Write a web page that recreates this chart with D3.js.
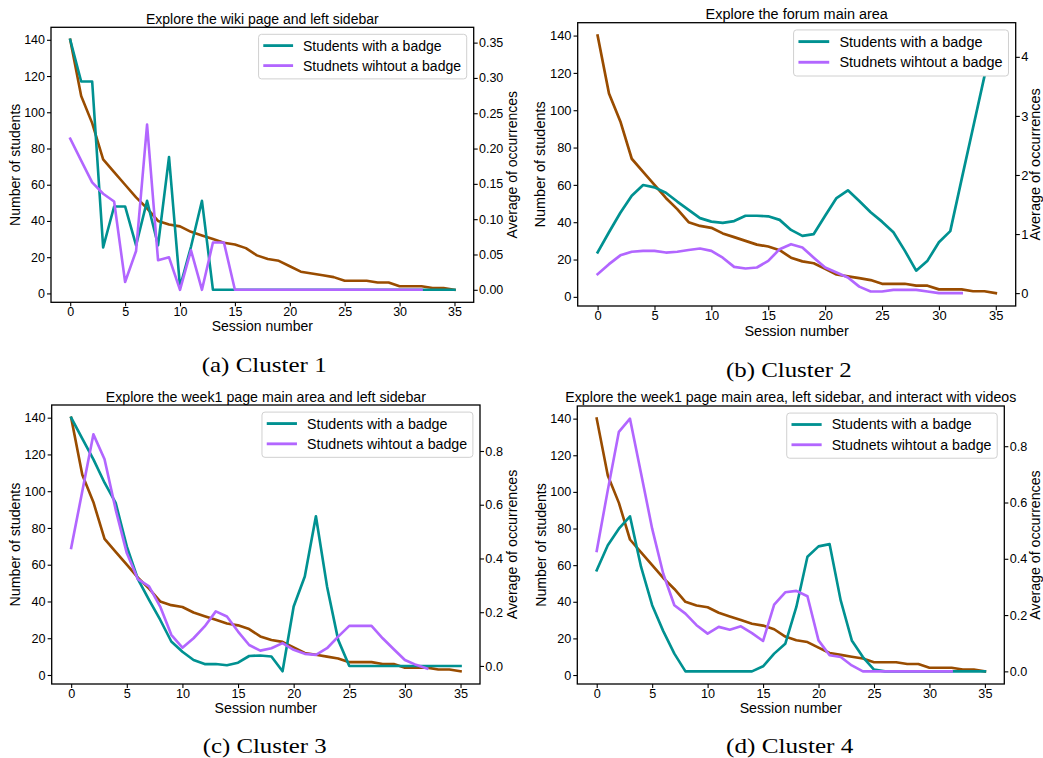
<!DOCTYPE html>
<html>
<head>
<meta charset="utf-8">
<script src="https://cdn.jsdelivr.net/npm/d3@7"></script>
<style>
  html, body { margin: 0; padding: 0; background: #fff; }
  svg { display: block; }
</style>
</head>
<body>
<svg id="chart" width="1043" height="758"></svg>
<script>
// ---------------- DATA ----------------
const sessions = [0,1,2,3,4,5,6,7,8,9,10,11,12,13,14,15,16,17,18,19,20,21,22,23,24,25,26,27,28,29,30,31,32,33,34,35];
const sessionsNoBadge = [0,1,2,3,4,5,6,7,8,9,10,11,12,13,14,15,16,17,18,19,20,21,22,23,24,25,26,27,28,29,30,31,32];

const students = [140,109,94,74,67,60,53,47,40,38,37,34,32,30,28,27,25,21,19,18,15,12,11,10,9,7,7,7,6,6,4,4,4,3,3,2];

const c1Badge = [0.354,0.295,0.295,0.060,0.118,0.118,0.063,0.126,0.063,0.188,0.004,0.061,0.126,0,0,0,0,0,0,0,0,0,0,0,0,0,0,0,0,0,0,0,0,0,0,0];
const c1NoBadge = [0.214,0.183,0.152,0.136,0.125,0.011,0.055,0.234,0.042,0.046,0,0.056,0,0.067,0.067,0,0,0,0,0,0,0,0,0,0,0,0,0,0,0,0,0,0];

const c2Badge = [0.69,1.03,1.36,1.65,1.83,1.79,1.70,1.55,1.41,1.27,1.21,1.19,1.22,1.31,1.31,1.30,1.24,1.07,0.97,1.00,1.31,1.61,1.74,1.56,1.37,1.21,1.03,0.72,0.38,0.55,0.86,1.05,1.93,2.80,3.67,4.36];
const c2NoBadge = [0.32,0.49,0.64,0.70,0.715,0.715,0.687,0.70,0.73,0.755,0.715,0.60,0.445,0.417,0.434,0.546,0.744,0.828,0.772,0.60,0.434,0.35,0.265,0.11,0.028,0.028,0.056,0.056,0.056,0.028,0,0,0];

const c3Badge = [0.924,0.846,0.769,0.682,0.607,0.445,0.323,0.246,0.172,0.091,0.053,0.022,0.007,0.007,0.0025,0.012,0.037,0.039,0.035,-0.02,0.221,0.333,0.557,0.296,0.097,0,0,0,0,0,0,0,0,0,0,0];
const c3NoBadge = [0.439,0.65,0.862,0.769,0.582,0.42,0.323,0.296,0.221,0.116,0.068,0.103,0.147,0.203,0.184,0.128,0.078,0.057,0.066,0.085,0.06,0.045,0.041,0.066,0.109,0.149,0.149,0.149,0.103,0.062,0.022,0.004,-0.01];

const c4Badge = [0.359,0.448,0.507,0.551,0.371,0.235,0.143,0.063,0,0,0,0,0,0,0,0.018,0.063,0.098,0.229,0.407,0.444,0.452,0.252,0.11,0.051,0.006,0,0,0,0,0,0,0,0,0,0];
const c4NoBadge = [0.428,0.644,0.851,0.898,0.703,0.507,0.347,0.235,0.205,0.164,0.134,0.158,0.148,0.16,0.136,0.108,0.237,0.281,0.286,0.267,0.110,0.057,0.051,0.021,0,0,0,0,0,0,0,0,0];

const xTicks = [0,5,10,15,20,25,30,35];
const leftTicks = [0,20,40,60,80,100,120,140];
const rightTicks1 = [0,0.05,0.10,0.15,0.20,0.25,0.30,0.35];
const rightTicks2 = [0,1,2,3,4];
const rightTicks34 = [0,0.2,0.4,0.6,0.8];

const titles = [
  "Explore the wiki page and left sidebar",
  "Explore the forum main area",
  "Explore the week1 page main area and left sidebar",
  "Explore the week1 page main area, left sidebar, and interact with videos"
];
const captions = ["(a) Cluster 1", "(b) Cluster 2", "(c) Cluster 3", "(d) Cluster 4"];
const legendLabels = ["Students with a badge", "Studnets wihtout a badge"];
const xLabel = "Session number";
const leftLabel = "Number of students";
const rightLabel = "Average of occurrences";

// ---------------- STYLE / LAYOUT ----------------
const W = 1043;
const COL_BROWN = "#994c00";
const COL_TEAL = "#009191";
const COL_PURPLE = "#b266ff";
const SANS = "'Liberation Sans', Arial, Helvetica, sans-serif";
const SERIF = "'Liberation Serif', 'Times New Roman', serif";

const svg = d3.select("#chart");

function pad(ext) {
  const r = ext[1] - ext[0];
  return [ext[0] - 0.05 * r, ext[1] + 0.05 * r];
}

const panels = [
  { left: 51, right: 473.7, top: 27.3, bottom: 302.3, s: 1.0, badge: c1Badge, nob: c1NoBadge, rt: rightTicks1, fmt: d3.format(".2f"), title: titles[0], titleDy: 3.0,
    cap: captions[0], capX: 264.2, capY: 371.7, capW: 125 },
  { left: 577.7, right: 1015.7, top: 22.7, bottom: 306, s: 1.033, badge: c2Badge, nob: c2NoBadge, rt: rightTicks2, fmt: d3.format("d"), title: titles[1], titleDy: 3.7,
    cap: captions[1], capX: 788.8, capY: 377.3, capW: 125.7 },
  { left: 51.7, right: 480, top: 405, bottom: 684, s: 1.014, badge: c3Badge, nob: c3NoBadge, rt: rightTicks34, fmt: d3.format(".1f"), title: titles[2], titleDy: 3.3,
    cap: captions[2], capX: 264.7, capY: 753.3, capW: 124 },
  { left: 577.3, right: 1004.3, top: 406, bottom: 684, s: 1.012, badge: c4Badge, nob: c4NoBadge, rt: rightTicks34, fmt: d3.format(".1f"), title: titles[3], titleDy: 4.3,
    cap: captions[3], capX: 789.7, capY: 753.3, capW: 127.3 }
];

panels.forEach((p, i) => {
  const s = p.s;
  const g = svg.append("g");
  const x = d3.scaleLinear().domain(pad(d3.extent(sessions))).range([p.left, p.right]);
  const yL = d3.scaleLinear().domain(pad(d3.extent(students))).range([p.bottom, p.top]);
  const yR = d3.scaleLinear().domain(pad(d3.extent(p.badge.concat(p.nob)))).range([p.bottom, p.top]);

  const clipId = "clip" + i;
  g.append("clipPath").attr("id", clipId).append("rect")
    .attr("x", p.left).attr("y", p.top).attr("width", p.right - p.left).attr("height", p.bottom - p.top);

  const lines = g.append("g").attr("clip-path", `url(#${clipId})`);
  const lineL = d3.line().x((d, j) => x(sessions[j])).y(d => yL(d));
  const lineR = d3.line().x((d, j) => x(sessions[j])).y(d => yR(d));

  lines.append("path").datum(students).attr("d", lineL)
    .attr("fill", "none").attr("stroke", COL_BROWN).attr("stroke-width", 2.6 * s)
    .attr("stroke-linejoin", "round").attr("stroke-linecap", "square");
  lines.append("path").datum(p.badge).attr("d", lineR)
    .attr("fill", "none").attr("stroke", COL_TEAL).attr("stroke-width", 2.6 * s)
    .attr("stroke-linejoin", "round").attr("stroke-linecap", "square");
  lines.append("path").datum(p.nob).attr("d", d3.line().x((d, j) => x(sessionsNoBadge[j])).y(d => yR(d)))
    .attr("fill", "none").attr("stroke", COL_PURPLE).attr("stroke-width", 2.6 * s)
    .attr("stroke-linejoin", "round").attr("stroke-linecap", "square");

  // axes
  const tickFont = 12.5 * s;
  const rPad = 1.3;
  const ax = g.append("g").attr("transform", `translate(0,${p.bottom})`)
    .call(d3.axisBottom(x).tickValues(xTicks).tickSize(4 * s).tickPadding(1 * s).tickFormat(d3.format("d")));
  const ayL = g.append("g").attr("transform", `translate(${p.left},0)`)
    .call(d3.axisLeft(yL).tickValues(leftTicks).tickSize(4 * s).tickPadding(2 * s).tickFormat(d3.format("d")));
  const ayR = g.append("g").attr("transform", `translate(${p.right},0)`)
    .call(d3.axisRight(yR).tickValues(p.rt).tickSize(4 * s).tickPadding(rPad * s).tickFormat(p.fmt));
  [ax, ayL, ayR].forEach(a => {
    a.select(".domain").remove();
    a.selectAll(".tick line").attr("stroke", "#000").attr("stroke-width", 1.1);
    a.selectAll(".tick text").attr("fill", "#000").attr("font-family", SANS).attr("font-size", tickFont);
  });

  // frame
  g.append("rect").attr("x", p.left).attr("y", p.top)
    .attr("width", p.right - p.left).attr("height", p.bottom - p.top)
    .attr("fill", "none").attr("stroke", "#000").attr("stroke-width", 1.3);

  // title
  g.append("text").attr("x", (p.left + p.right) / 2).attr("y", p.top - p.titleDy)
    .attr("text-anchor", "middle").attr("font-family", SANS).attr("font-size", 14 * s)
    .attr("fill", "#000").text(p.title);

  // x label
  g.append("text").attr("x", (p.left + p.right) / 2).attr("y", p.bottom + 28.8 * s)
    .attr("text-anchor", "middle").attr("font-family", SANS).attr("font-size", 14 * s)
    .attr("fill", "#000").text(xLabel);

  // y labels (position from tick label widths)
  const fs = 14 * s;
  let wL = 0; ayL.selectAll(".tick text").each(function() { wL = Math.max(wL, this.getComputedTextLength()); });
  let wR = 0; ayR.selectAll(".tick text").each(function() { wR = Math.max(wR, this.getComputedTextLength()); });
  const cy = (p.top + p.bottom) / 2;
  const lx = p.left - (4 + 2 + wL + 4 + 5) * s;
  const baselineMax = W - 0.212 * fs - 0.1;
  const rx = Math.min(p.right + (4 + 1.8 + wR + 4 + 4.2) * s, baselineMax - 0.35 * fs);
  g.append("text").attr("transform", `translate(${lx},${cy}) rotate(-90)`).attr("dy", "0.35em")
    .attr("text-anchor", "middle").attr("font-family", SANS).attr("font-size", fs)
    .attr("fill", "#000").text(leftLabel);
  g.append("text").attr("transform", `translate(${rx},${cy}) rotate(-90)`).attr("dy", "0.35em")
    .attr("text-anchor", "middle").attr("font-family", SANS).attr("font-size", fs)
    .attr("fill", "#000").text(rightLabel);

  // legend
  const lg = g.append("g");
  const boxTop = p.top + 7 * s;
  const texts = [];
  const rowsY = [boxTop + 11.3 * s, boxTop + 31.3 * s];
  const box = lg.append("rect");
  legendLabels.forEach((lab, k) => {
    texts.push(lg.append("text").attr("y", rowsY[k]).attr("dy", "0.35em")
      .attr("font-family", SANS).attr("font-size", 14 * s).attr("fill", "#000").text(lab));
  });
  let tw = 0; texts.forEach(t => { tw = Math.max(tw, t.node().getComputedTextLength()); });
  const boxW = 44.4 * s + tw + 5.7 * s;
  const boxRight = p.right - 7 * s;
  const boxLeft = boxRight - boxW;
  box.attr("x", boxLeft).attr("y", boxTop).attr("width", boxW).attr("height", 44.6 * s)
    .attr("rx", 3).attr("ry", 3).attr("fill", "#fff").attr("stroke", "#d0d0d0").attr("stroke-width", 1);
  texts.forEach(t => t.attr("x", boxLeft + 44.4 * s));
  [COL_TEAL, COL_PURPLE].forEach((c, k) => {
    lg.append("line").attr("x1", boxLeft + 4.7 * s).attr("x2", boxLeft + 34.5 * s)
      .attr("y1", rowsY[k]).attr("y2", rowsY[k])
      .attr("stroke", c).attr("stroke-width", 2.8 * s);
  });

  // caption
  svg.append("text").attr("x", p.capX).attr("y", p.capY).attr("text-anchor", "middle")
    .attr("font-family", SERIF).attr("font-size", 21).attr("fill", "#000")
    .attr("textLength", p.capW).attr("lengthAdjust", "spacingAndGlyphs")
    .text(p.cap);
});
</script>
</body>
</html>
